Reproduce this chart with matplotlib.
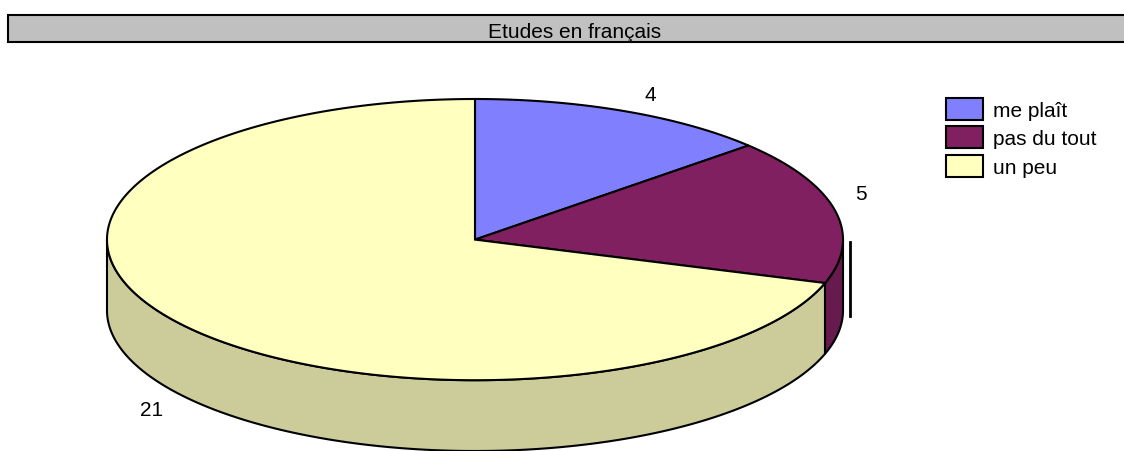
import numpy as np
import matplotlib.pyplot as plt
from matplotlib.patches import Polygon, Rectangle, Patch

plt.rcParams['font.family'] = ['Liberation Sans', 'DejaVu Sans']

# Données
categories = ['me plaît', 'pas du tout', 'un peu']
valeurs = [4, 5, 21]
couleurs = ['#8080FF', '#802060', '#FFFFC0']
couleurs_cote = ['#6666CC', '#661A4D', '#CCCC9A']
titre = 'Etudes en français'

W, H = 1124, 452
fig = plt.figure(figsize=(W / 100, H / 100), dpi=100)

# Bandeau du titre
fig.patches.append(Rectangle((8 / W, 1 - 43 / H), 1.02, 27 / H, transform=fig.transFigure,
                             facecolor='#C0C0C0', edgecolor='black', lw=1.5, zorder=0))
fig.text(575 / W, 1 - 38 / H, titre, ha='center', va='baseline', fontsize=15)

# Axe du camembert: ellipse de rayon 1 en coordonnées de données, hauteur 3D = prof
prof = 0.5035
ax = fig.add_axes([107 / W, 0, 736 / W, 352 / H])
ax.set_xlim(-1, 1)
ax.set_ylim(-1 - prof, 1)
ax.set_aspect('auto')
ax.axis('off')

total = sum(valeurs)
cum = np.concatenate([[0], np.cumsum(valeurs)])
debut = 90.0  # départ à midi, sens horaire
angles = [(debut - 360 * cum[i + 1] / total, debut - 360 * cum[i] / total) for i in range(len(valeurs))]

# Faces latérales (partie avant seulement)
for (lo, hi), c in zip(angles, couleurs_cote):
    t = np.radians(np.linspace(lo, hi, 600))
    t = t[np.sin(t) <= 1e-9]
    if len(t) < 2:
        continue
    haut = np.column_stack([np.cos(t), np.sin(t)])
    bas = np.column_stack([np.cos(t[::-1]), np.sin(t[::-1]) - prof])
    ax.add_patch(Polygon(np.vstack([haut, bas]), closed=True, facecolor=c,
                         edgecolor='black', lw=1.5, clip_on=False, zorder=1))

# Faces supérieures
for (lo, hi), c in zip(angles, couleurs):
    t = np.radians(np.linspace(lo, hi, 400))
    pts = np.vstack([[0, 0], np.column_stack([np.cos(t), np.sin(t)])])
    ax.add_patch(Polygon(pts, closed=True, facecolor=c, edgecolor='black',
                         lw=1.5, joinstyle='miter', clip_on=False, zorder=2))

# Étiquettes de valeur, décalées vers l'extérieur
for (lo, hi), v in zip(angles, valeurs):
    m = np.radians((lo + hi) / 2)
    lx = np.cos(m) + 0.07 * np.sign(np.cos(m))
    if np.sin(m) >= 0:
        ly = np.sin(m) + 0.12
    else:
        ly = np.sin(m) - prof - 0.12
    ax.text(lx, ly, str(v), ha='center', va='center', fontsize=15, clip_on=False)

# Trait de rappel de l'étiquette « 5 »
ax.plot([1.019, 1.019], [-0.02, -0.546], color='black', lw=2, clip_on=False, zorder=3)

# Légende
poignees = [Patch(facecolor=c, edgecolor='black', lw=1.5) for c in couleurs]
fig.legend(poignees, categories, loc='upper left', bbox_to_anchor=(946 / W, 1 - 99 / H),
           frameon=False, fontsize=15, handlelength=1.78, handleheight=1.25,
           handletextpad=0.48, labelspacing=0.3, borderpad=0, borderaxespad=0)

fig.savefig('out.png', dpi=100)
